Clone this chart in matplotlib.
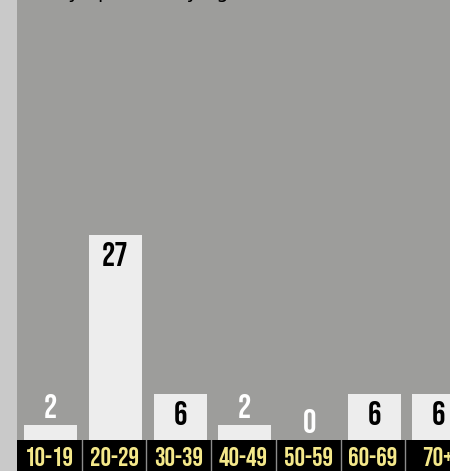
import matplotlib.pyplot as plt

# Respondents per age group
age_groups = ["10-19", "20-29", "30-39", "40-49", "50-59", "60-69", "70+"]
counts = [2, 27, 6, 2, 0, 6, 6]

W, H = 450, 471
COND = ["Bebas Neue", "Oswald", "DejaVu Sans"]

fig = plt.figure(figsize=(W / 100, H / 100), dpi=100)
fig.patch.set_facecolor("#c9c9c9")

left = 17 / W
band = 31 / H
col_px = 64.7                    # one category column in pixels
n_cols = (W - 17) / col_px

# -- bars --
ax = fig.add_axes([left, band, 1 - left, 1 - band])
ax.set_facecolor("#9d9d9b")
ax.set_xlim(0, n_cols)
ax.set_ylim(0, 440 / 7.6)
for s in ax.spines.values():
    s.set_visible(False)
ax.set_xticks([])
ax.set_yticks([])

x = [i + 0.52 for i in range(len(counts))]
ax.bar(x, counts, width=0.82, color="#ededed")

for xi, v in zip(x, counts):
    if v >= 5:
        off, color = -31, "black"
    else:
        off, color = 7, "white"
    ax.annotate(str(v), (xi, v), xytext=(0, off), textcoords="offset pixels",
                ha="center", va="baseline", color=color,
                family=COND, fontsize=24)

# -- category band --
bx = fig.add_axes([left, 0, 1 - left, band])
bx.set_facecolor("black")
bx.set_xlim(0, n_cols)
bx.set_ylim(0, 1)
for s in bx.spines.values():
    s.set_visible(False)
bx.set_xticks([])
bx.set_yticks([])
for i, lab in enumerate(age_groups):
    bx.text(i + 0.5, 5 / 31, lab, ha="center", va="baseline", color="#f4e88a",
            family=COND, fontsize=19)
    if i > 0:
        bx.axvline(i, color="#8c8c8c", lw=1)

# title sits above the visible area, only descenders show
fig.text(12 / W, 1 + 1.5 / H, "Survey opinions by age", ha="left", va="baseline",
         fontsize=14, color="black")

fig.savefig("out.png", dpi=100, facecolor=fig.get_facecolor())
